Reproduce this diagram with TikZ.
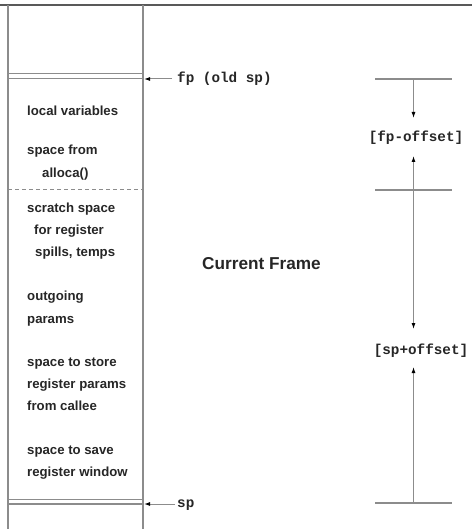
\documentclass[tikz,border=0pt]{standalone}
\usepackage{fontspec}
\setsansfont{Liberation Sans}
\setmonofont{Liberation Mono}
\usetikzlibrary{arrows.meta}
\begin{document}
\begin{tikzpicture}[x=1pt,y=-1pt,
  frameline/.style={draw=black!45,line width=1.2pt},
  lbl/.style={font=\sffamily\bfseries\fontsize{13.2}{15}\selectfont,anchor=mid west,inner sep=0pt,text=black!85},
  mono/.style={font=\ttfamily\bfseries\fontsize{14.3}{16}\selectfont,inner sep=0pt,text=black!85},
  ptr/.style={draw=black!45,line width=1pt,-{Latex[length=6pt,width=4pt,black]}},
  tick/.style={draw=black!45,line width=1.4pt}]
\useasboundingbox (0,0) rectangle (472,529);
% frame
\draw[draw=black!65,line width=1.3pt] (0,5) -- (472,5);
\draw[frameline] (8,5) -- (8,529);
\draw[frameline] (143,5) -- (143,529);
\draw[frameline,line width=1pt] (8,73.5) -- (143,73.5);
\draw[frameline] (8,78.5) -- (143,78.5);
\draw[frameline,line width=1pt] (8,499) -- (143,499);
\draw[frameline] (8,504) -- (143,504);
\draw[draw=black!45,line width=1pt,dash pattern=on 4pt off 3pt] (8,190) -- (143,190);
% pointers
\coordinate (fpS) at (172,79);
\coordinate (fpE) at (144,79);
\coordinate (spS) at (175,504);
\coordinate (spE) at (144,504);
\draw[ptr] (fpS) -- (fpE);
\draw[ptr] (spS) -- (spE);
\node[mono,anchor=mid west] (fp) at (177,80) {fp (old sp)};
\node[mono,anchor=mid west] (sp) at (177,505) {sp};
% left labels
\node[lbl] (l1) at (27,113) {local variables};
\node[lbl] (l2) at (27,152) {space from};
\node[lbl] (l3) at (42,175) {alloca()};
\node[lbl] (l4) at (27,210) {scratch space};
\node[lbl] (l5) at (34,232) {for register};
\node[lbl] (l6) at (35,254) {spills, temps};
\node[lbl] (l7) at (27,298) {outgoing};
\node[lbl] (l8) at (27,321) {params};
\node[lbl] (l9) at (27,364) {space to store};
\node[lbl] (l10) at (27,386) {register params};
\node[lbl] (l11) at (27,408) {from callee};
\node[lbl] (l12) at (27,452) {space to save};
\node[lbl] (l13) at (27,474) {register window};
\node[lbl,font=\sffamily\bfseries\fontsize{17.2}{19}\selectfont] (cf) at (202,267) {Current Frame};
% right offsets
\coordinate (t1) at (413.5,79);
\coordinate (t2) at (413.5,190);
\coordinate (t3) at (413.5,503);
\coordinate (a1) at (413.5,118);
\coordinate (a2) at (413.5,156);
\coordinate (a3) at (413.5,329);
\coordinate (a4) at (413.5,367);
\draw[tick] (375,79) -- (452,79);
\draw[tick] (375,190) -- (452,190);
\draw[tick] (375,503) -- (452,503);
\draw[ptr] (t1) -- (a1);
\draw[ptr] (t2) -- (a2);
\draw[ptr] (t2) -- (a3);
\draw[ptr] (t3) -- (a4);
\node[mono] (fpo) at (416,138) {[fp-offset]};
\node[mono] (spo) at (421,351) {[sp+offset]};
\end{tikzpicture}
\end{document}
